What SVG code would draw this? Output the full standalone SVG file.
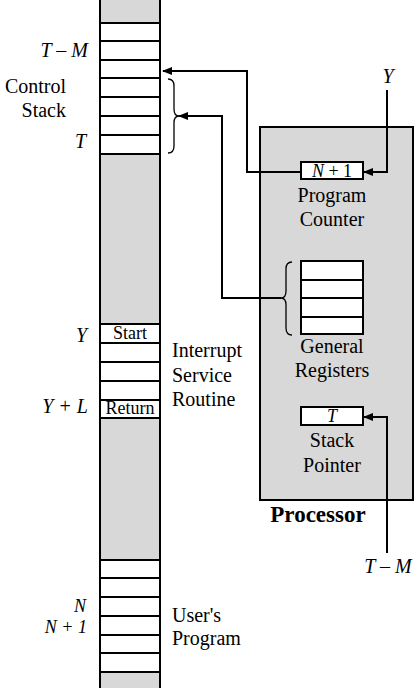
<svg xmlns="http://www.w3.org/2000/svg" width="420" height="688" viewBox="0 0 420 688">
<style>
text{font-family:'Liberation Serif','DejaVu Serif','Times New Roman',serif;font-size:20px;fill:#000}
.i{font-style:italic}
.m{text-anchor:middle}
.e{text-anchor:end}
.b{font-weight:bold;font-size:23px}
.sm{font-size:18px}
.cell{fill:#fff;stroke:#000;stroke-width:2}
.gray{fill:#d8d8d8}
.ln{fill:none;stroke:#000;stroke-width:2}
.br{fill:none;stroke:#000;stroke-width:1.3}
</style>
<defs>
<marker id="ah" markerUnits="userSpaceOnUse" markerWidth="10" markerHeight="8" refX="9" refY="4" orient="auto">
<path d="M0,0 L10,4 L0,8 Z" fill="#000"/>
</marker>
</defs>
<rect width="420" height="688" fill="#fff"/>

<g id="memory">
<rect class="gray" x="100" y="0" width="60" height="688"/>
<rect class="cell" x="100" y="23" width="60" height="18"/>
<rect class="cell" x="100" y="41" width="60" height="19"/>
<rect class="cell" x="100" y="60" width="60" height="18"/>
<rect class="cell" x="100" y="78" width="60" height="19"/>
<rect class="cell" x="100" y="97" width="60" height="19"/>
<rect class="cell" x="100" y="116" width="60" height="19"/>
<rect class="cell" x="100" y="135" width="60" height="19"/>

<rect class="cell" x="100" y="324" width="60" height="19"/>
<rect class="cell" x="100" y="343" width="60" height="19"/>
<rect class="cell" x="100" y="362" width="60" height="19"/>
<rect class="cell" x="100" y="381" width="60" height="19"/>
<rect class="cell" x="100" y="400" width="60" height="18"/>

<rect class="cell" x="100" y="560" width="60" height="18"/>
<rect class="cell" x="100" y="578" width="60" height="19"/>
<rect class="cell" x="100" y="597" width="60" height="19"/>
<rect class="cell" x="100" y="616" width="60" height="19"/>
<rect class="cell" x="100" y="635" width="60" height="18"/>
<rect class="cell" x="100" y="653" width="60" height="19"/>
<line class="ln" x1="100" y1="0" x2="100" y2="688"/>
<line class="ln" x1="160" y1="0" x2="160" y2="688"/>
<text class="sm m" x="130" y="339">Start</text>
<text class="sm m" x="130" y="414">Return</text>
</g>

<g id="control-stack">
<text class="i e" x="88" y="57">T – M</text>
<text class="e" x="66" y="93">Control</text>
<text class="e" x="66" y="117">Stack</text>
<text class="i e" x="86" y="148">T</text>
<path class="br" d="M168,79 Q174,79 174,86 L174,109 Q174,116 179,116 Q174,116 174,123 L174,146 Q174,153 168,153"/>
</g>

<g id="isr-labels">
<text class="i e" x="87" y="342">Y</text>
<text class="i e" x="88" y="413">Y + L</text>
<text x="172" y="357">Interrupt</text>
<text x="172" y="382">Service</text>
<text x="172" y="406">Routine</text>
</g>

<g id="user-program">
<text class="i e sm" x="86" y="612">N</text>
<text class="i e sm" x="87" y="633">N + 1</text>
<text x="172" y="622">User's</text>
<text x="172" y="645">Program</text>
</g>

<g id="processor">
<rect x="260" y="127" width="153" height="373" fill="#d8d8d8" stroke="#000" stroke-width="2"/>
<text class="b m" x="318" y="522">Processor</text>
</g>

<g id="program-counter">
<rect class="cell" x="301" y="162" width="62" height="17"/>
<text class="m sm" x="332" y="177"><tspan class="i">N</tspan> + 1</text>
<text class="m" x="332" y="202">Program</text>
<text class="m" x="332" y="226">Counter</text>
</g>

<g id="general-registers">
<rect class="cell" x="301" y="261" width="62" height="19"/>
<rect class="cell" x="301" y="280" width="62" height="18"/>
<rect class="cell" x="301" y="298" width="62" height="19"/>
<rect class="cell" x="301" y="317" width="62" height="17"/>
<path class="br" d="M292,262 Q286,262 286,269 L286,291 Q286,298 281,298 Q286,298 286,305 L286,328 Q286,335 292,335"/>
<text class="m" x="332" y="353">General</text>
<text class="m" x="332" y="377">Registers</text>
</g>

<g id="stack-pointer">
<rect class="cell" x="301" y="407" width="62" height="18"/>
<text class="i m sm" x="332" y="422">T</text>
<text class="m" x="332" y="447">Stack</text>
<text class="m" x="332" y="472">Pointer</text>
</g>

<g id="external-labels">
<text class="i m" x="388" y="83">Y</text>
<text class="i m" x="388" y="573">T – M</text>
</g>

<g id="connectors">
<path class="ln" d="M301,172 H247 V71 H163" marker-end="url(#ah)"/>
<path class="ln" d="M281,298 H222 V116 H179" marker-end="url(#ah)"/>
<path class="ln" d="M387,90 V172 H364" marker-end="url(#ah)"/>
<path class="ln" d="M387,553 V417 H364" marker-end="url(#ah)"/>
</g>
</svg>
